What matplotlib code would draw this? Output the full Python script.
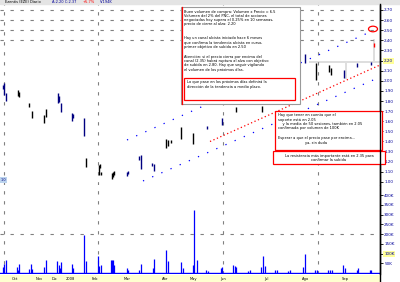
import numpy as np
import matplotlib
matplotlib.use("Agg")
import matplotlib.pyplot as plt
from matplotlib.patches import Rectangle, Ellipse
from matplotlib.lines import Line2D

# price bars: session, high, low, colour
bar_x = [3, 4, 6, 18, 19, 29, 32, 44, 46, 58, 59, 61, 72, 73, 84, 86, 99, 100, 101,
         112, 113, 114, 127, 128, 139, 141, 152, 154, 166, 168, 171, 181, 193, 207,
         222, 236, 262, 305, 316, 329, 331, 344, 357, 371, 374]
bar_high = [1.96, 1.98, 1.88, 1.91, 1.89, 1.78, 1.70, 1.66, 1.72, 1.88, 1.85, 1.78,
            1.68, 1.67, 1.63, 1.24, 1.17, 1.18, 1.10, 1.09, 1.10, 1.11, 1.10, 1.11,
            1.26, 1.27, 1.19, 1.18, 1.42, 1.41, 1.41, 1.54, 1.48, 1.55, 1.63, 1.74,
            1.75, 2.26, 2.18, 2.16, 2.13, 2.11, 2.18, 2.19, 2.37]
bar_low = [1.92, 1.86, 1.80, 1.85, 1.84, 1.74, 1.63, 1.58, 1.64, 1.78, 1.79, 1.69,
           1.60, 1.63, 1.45, 1.15, 1.07, 1.14, 1.07, 1.03, 1.05, 1.07, 1.06, 1.08,
           1.22, 1.13, 1.16, 1.11, 1.34, 1.36, 1.39, 1.42, 1.38, 1.52, 1.56, 1.69,
           1.69, 2.18, 2.01, 2.09, 2.06, 2.03, 2.14, 2.16, 2.33]
bar_col = ["b", "b", "b", "k", "k", "k", "k", "k", "k", "b", "b", "b", "b", "b", "b",
           "k", "k", "k", "k", "k", "k", "k", "b", "b", "b", "b", "b", "b", "k", "k",
           "k", "k", "k", "b", "b", "k", "k", "b", "k", "k", "k", "b", "b", "b", "r"]

# volume (thousands)
vol_x = [3, 4, 6, 17, 18, 19, 29, 31, 32, 44, 46, 57, 59, 60, 61, 72, 73, 84, 86,
         98, 99, 101, 111, 112, 113, 114, 127, 128, 139, 141, 153, 154, 166, 168,
         181, 183, 193, 194, 197, 206, 208, 221, 222, 233, 235, 236, 248, 250, 261,
         263, 265, 275, 277, 288, 290, 303, 305, 315, 317, 328, 330, 332, 343, 345,
         357, 358, 370, 371]
vol = [29, 45, 65, 29, 18, 45, 19, 45, 20, 29, 65, 60, 40, 24, 55, 45, 24, 194, 60,
       86, 35, 40, 65, 65, 65, 40, 24, 18, 18, 45, 24, 70, 117, 60, 55, 24, 40, 323,
       65, 18, 9, 24, 29, 40, 35, 29, 9, 14, 29, 86, 35, 18, 14, 9, 14, 29, 96, 18,
       18, 18, 18, 18, 40, 24, 18, 24, 18, 14]

# trend channel (start session, start price, end session, end price)
red_line = [210, 1.40, 380, 2.156]
upper_line = [127, 1.415, 370, 2.482]
lower_line = [143, 1.010, 380, 2.037]

month_pos = [4, 98, 223, 318]
date_x = [15, 39, 54, 70, 95, 127, 165, 193, 223, 266, 306, 345]
date_labels = ["Oct", "Nov", "Dic", "2008", "Feb", "Mar", "Abr", "May", "Jun",
               "Jul", "Ago", "Sep"]

price_ticks = np.round(np.arange(1.0, 2.71, 0.1), 2)
vol_ticks = np.arange(50, 401, 50)

colmap = {"b": "#000080", "k": "black", "r": "red"}
blue_lbl = "#000099"

fig = plt.figure(figsize=(4, 2.82), dpi=100)


def fx(px):
    return px / 400.0


def fy(py):
    return 1 - py / 282.0


ax = fig.add_axes([0, fy(185), 0.95, fy(4) - fy(185)])
axv = fig.add_axes([0, fy(274), 0.95, fy(186) - fy(274)])

for a in (ax, axv):
    for s in ("top", "left", "bottom"):
        a.spines[s].set_visible(False)
    a.spines["right"].set_linewidth(1.0)
    a.yaxis.tick_right()
    a.tick_params(axis="y", labelsize=3, labelcolor=blue_lbl, length=2, width=0.6, pad=1)
    a.set_xticks([])
    a.set_xlim(0, 380)
    for m in month_pos:
        a.axvline(m, color="gray", lw=0.8, dashes=(3, 6))

# price pane
ax.set_ylim(0.97, 2.759)
ax.set_yticks(price_ticks)
ax.set_yticklabels([f"{t:.2f}" for t in price_ticks])
for lv in [2.4, 2.5, 2.6, 2.7]:
    ax.axhline(lv, color="gray", lw=0.8, dashes=(3, 6))
for lbl in ax.get_yticklabels():
    if lbl.get_text() == "2.20":
        lbl.set_bbox(dict(facecolor="#ffff99", edgecolor="none", pad=0.5))

# gray marker lines
ax.plot([310, 380], [2.186, 2.186], color="#dedede", lw=1.4, zorder=1)
ax.plot([374, 374], [2.186, 2.40], color="#dedede", lw=1.4, zorder=1)
ax.plot([346, 346], [2.186, 2.03], color="#dedede", lw=1.4, zorder=1)

ax.plot(red_line[::2], red_line[1::2], color="red", lw=0.9, ls=(0, (1, 2)))
ax.plot(upper_line[::2], upper_line[1::2], color="blue", lw=0.9, ls=(0, (1, 7)))
ax.plot(lower_line[::2], lower_line[1::2], color="blue", lw=0.9, ls=(0, (1, 7)))

ax.vlines(bar_x, bar_low, bar_high, colors=[colmap[c] for c in bar_col], lw=1.0, zorder=3)
ax.add_patch(Ellipse((373, 2.512), 9, 0.055, fill=False, ec="red", lw=0.9))
ax.text(1, 1.02, "1.0", fontsize=2.5, color="#000080", va="center",
        bbox=dict(facecolor="#bcd4ee", edgecolor="none", pad=0.6))

# volume pane
axv.vlines(vol_x, 0, vol, color="#0000ff", lw=0.9)
axv.axhline(0, color="#0000ff", lw=1.0)
axv.axhline(200, color="gray", lw=0.8, dashes=(3, 6))
axv.set_ylim(-5, 447)
axv.set_yticks(vol_ticks)
axv.set_yticklabels([f"{v}K" for v in vol_ticks])
for lbl in axv.get_yticklabels():
    if lbl.get_text() == "100K":
        lbl.set_bbox(dict(facecolor="#ffff99", edgecolor="none", pad=0.5))

# date strip
axd = fig.add_axes([0, 0, 0.95, fy(275)])
axd.set_xlim(0, 380)
axd.set_ylim(0, 1)
axd.axis("off")
axd.add_patch(Rectangle((0, 0), 380, 1, color="#ffffd0"))
for x, t in zip(date_x, date_labels):
    axd.text(x, 0.45, t, fontsize=2.6, ha="center", va="center", color="black")

fig.add_artist(Line2D([0.95, 0.95], [0, fy(4)], color="black", lw=1.0))

# top title strip
fig.add_artist(Rectangle((0, fy(4)), 1, 1 - fy(4), color="#e4e4e4", transform=fig.transFigure))
fig.text(fx(5), fy(2), "Ezentis (EZE) Diario", fontsize=2.6, va="center")
fig.text(fx(52), fy(2), "A:2.20 C:2.37", fontsize=2.6, va="center", color="#000099")
fig.text(fx(83), fy(2), "+5.7%", fontsize=2.6, va="center", color="red")
fig.text(fx(100), fy(2), "V:194K", fontsize=2.6, va="center", color="#000099")

# annotation box 1
fig.add_artist(Rectangle((fx(181), fy(104)), fx(300) - fx(181), fy(7) - fy(104),
                         transform=fig.transFigure, facecolor="white", edgecolor="#9a9a9a", lw=0.8))
fig.add_artist(Line2D([fx(182), fx(182)], [fy(104), fy(7)], color="red", lw=0.9))
box1 = [
    (12, "Buen volumen de compra: Volumen x Precio = 6.5"),
    (16, "Volumen del 2% del PNC, el total de acciones"),
    (20, "negociadas hoy supera el 0.25% en 10 semanas,"),
    (24, "precio de cierre al alza: 2.20"),
    (38, "Hay un canal alcista iniciado hace 6 meses"),
    (43, "que confirma la tendencia alcista en curso,"),
    (47, "primer objetivo de subida en 2.50"),
    (57, "Atención: si el precio cierra por encima del"),
    (61, "canal (2.35) habrá ruptura al alza con objetivo"),
    (65, "de subida en 2.80. Hay que seguir vigilando"),
    (70, "el volumen de los próximos días."),
]
for py, t in box1:
    fig.text(fx(184), fy(py), t, fontsize=2.6, va="center")
fig.add_artist(Rectangle((fx(184), fy(100)), fx(295) - fx(184), fy(78) - fy(100),
                         transform=fig.transFigure, facecolor="white", edgecolor="red", lw=0.9))
fig.text(fx(187), fy(82), "Lo que pase en los próximos días definirá la", fontsize=2.6, va="center")
fig.text(fx(187), fy(87), "dirección de la tendencia a medio plazo.", fontsize=2.6, va="center")

# annotation box 2
fig.add_artist(Rectangle((fx(275), fy(150)), fx(382) - fx(275), fy(111) - fy(150),
                         transform=fig.transFigure, facecolor="white", edgecolor="red", lw=0.9))
box2 = [
    (115, "Hay que tener en cuenta que el"),
    (120, "soporte está en 2.05"),
    (124, "    y la media de 50 sesiones, también en 2.05"),
    (128, "confirmada por volumen de 100K"),
    (138, "Esperar a que el precio pase por encima..."),
]
for py, t in box2:
    fig.text(fx(278), fy(py), t, fontsize=2.6, va="center")
fig.text(fx(316), fy(143), "ya, sin duda", fontsize=2.6, va="center", ha="center")

# annotation box 3
fig.add_artist(Rectangle((fx(273), fy(164)), fx(385) - fx(273), fy(151) - fy(164),
                         transform=fig.transFigure, facecolor="white", edgecolor="red", lw=0.9))
fig.text(fx(329), fy(155.5), "La resistencia más importante está en 2.35 para", fontsize=2.6,
         va="center", ha="center")
fig.text(fx(329), fy(160), "confirmar la subida", fontsize=2.6, va="center", ha="center")

fig.savefig("out.png", dpi=100)
